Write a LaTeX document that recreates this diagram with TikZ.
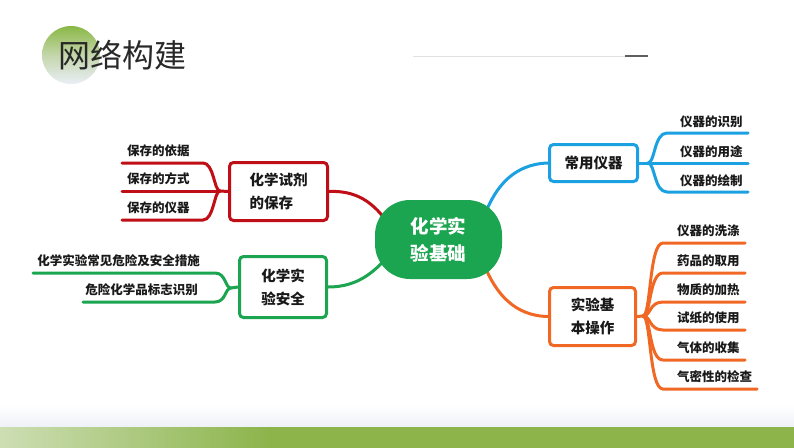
\documentclass[tikz,border=0pt]{standalone}
\usepackage{fontspec}
\setmainfont{Noto Sans CJK SC}
\usetikzlibrary{backgrounds,calc}
\definecolor{cred}{RGB}{192,14,22}
\definecolor{cgreen}{RGB}{27,165,80}
\definecolor{cblue}{RGB}{27,161,226}
\definecolor{corange}{RGB}{240,104,36}
\definecolor{bandgreen}{RGB}{140,180,75}
\definecolor{bandlight}{RGB}{205,222,180}
\definecolor{titlegray}{RGB}{40,40,40}
\definecolor{labgray}{RGB}{25,25,25}
\definecolor{circtop}{RGB}{138,184,70}
\definecolor{circmid}{RGB}{196,214,170}
\definecolor{circbot}{RGB}{234,238,247}
\definecolor{linegray}{RGB}{225,225,225}
\definecolor{bargray}{RGB}{95,95,95}
\definecolor{fadebot}{RGB}{238,241,247}
\pgfdeclarehorizontalshading{bandshade}{100bp}{color(0bp)=(bandlight); color(25bp)=(bandlight); color(42bp)=(bandgreen); color(100bp)=(bandgreen)}
\begin{document}
\begin{tikzpicture}[x=1pt,y=-1pt,
  lab/.style={inner sep=0pt,text=labgray,font=\fontsize{12.5}{14}\selectfont\bfseries},
  boxtext/.style={font=\fontsize{14.5}{23}\selectfont\bfseries,text=labgray,align=left},
  topicbox/.style={draw,line width=3pt,rounded corners=4pt,fill=white,inner sep=0pt,boxtext},
  branch/.style={line width=3pt,line cap=round}]
\useasboundingbox (0,0) rectangle (794,447);
\begin{scope}[on background layer]
\fill[white] (0,0) rectangle (794,447);
\end{scope}
% title decoration
\shade[top color=circtop,bottom color=circbot,middle color=circmid] (71,55) circle (29);
\node[inner sep=0pt,text=titlegray,font=\fontsize{32}{34}\selectfont] (title) at (122,55) {网络构建};
\draw[line width=1pt,linegray] (413,56) -- (625,56);
\draw[line width=2.5pt,bargray] (625,56) -- (648,56);
% bottom band
\shade[top color=white,bottom color=fadebot] (0,405) rectangle (794,427);
\shade[shading=bandshade] (0,427) rectangle (794,447);

% nodes
\node[fill=cgreen,rounded corners=35pt,minimum width=127pt,minimum height=79pt,inner sep=0pt,
      text=white,align=center,font=\fontsize{18.5}{27}\selectfont\bfseries] (cn) at (438.5,239.5) {化学实\\验基础};
\node[topicbox,draw=cred,minimum width=98pt,minimum height=58pt] (rb) at (278.5,191.5) {化学试剂\\的保存};
\node[topicbox,draw=cgreen,minimum width=87pt,minimum height=61pt] (gb) at (283,287) {化学实\\验安全};
\node[topicbox,draw=cblue,minimum width=88pt,minimum height=37pt] (bb) at (593.5,163) {常用仪器};
\node[topicbox,draw=corange,minimum width=86pt,minimum height=58pt] (ob) at (592.5,316.5) {实验基\\本操作};

% connectors to centre (behind centre node)
\begin{scope}[on background layer]
\draw[branch,cred] (rb.east) .. controls (362,190) and (378,208) .. ($(cn.center)+(-46,-10)$);
\draw[branch,cgreen] (gb.east) .. controls (360,287) and (376,270) .. ($(cn.center)+(-46,12)$);
\draw[branch,cblue] (bb.west) .. controls (515,164) and (496,185) .. ($(cn.center)+(46,-24)$);
\draw[branch,corange] (ob.west) .. controls (515,316) and (496,294) .. ($(cn.center)+(46,26)$);
\end{scope}

% red forks
\coordinate (rf) at (220,191);
\coordinate (r1) at (122,163);
\coordinate (r2) at (122,191);
\coordinate (r3) at (122,220);
\draw[branch,cred,line cap=butt] (rb.west) -- (rf);
\draw[branch,cred] (rf) .. controls (214,191) and (214,163) .. (203,163) -- (r1);
\draw[branch,cred] (rf) -- (r2);
\draw[branch,cred] (rf) .. controls (214,191) and (214,220) .. (203,220) -- (r3);
\node[lab,anchor=south west] (rl1) at (127,157) {保存的依据};
\node[lab,anchor=south west] (rl2) at (127,185) {保存的方式};
\node[lab,anchor=south west] (rl3) at (127,214) {保存的仪器};

% green forks
\coordinate (gf) at (231,288);
\coordinate (g1) at (33,273);
\coordinate (g2) at (83,302);
\draw[branch,cgreen,line cap=butt] (gb.west) -- (gf);
\draw[branch,cgreen] (gf) .. controls (225,288) and (226,273) .. (215,273) -- (g1);
\draw[branch,cgreen] (gf) .. controls (225,288) and (226,302) .. (215,302) -- (g2);
\node[lab,anchor=south east] (gl1) at (200,267) {化学实验常见危险及安全措施};
\node[lab,anchor=south east] (gl2) at (198,296) {危险化学品标志识别};

% blue forks
\coordinate (bf) at (648,163);
\coordinate (b1) at (748,133);
\coordinate (b2) at (748,163);
\coordinate (b3) at (748,192);
\draw[branch,cblue,line cap=butt] (bb.east) -- (bf);
\draw[branch,cblue] (bf) .. controls (655,163) and (654,133) .. (667,133) -- (b1);
\draw[branch,cblue] (bf) -- (b2);
\draw[branch,cblue] (bf) .. controls (655,163) and (654,192) .. (667,192) -- (b3);
\node[lab,anchor=south west] (bl1) at (680,128) {仪器的识别};
\node[lab,anchor=south west] (bl2) at (680,158) {仪器的用途};
\node[lab,anchor=south west] (bl3) at (680,187) {仪器的绘制};

% orange forks
\coordinate (of) at (643,316);
\draw[branch,corange,line cap=butt] (ob.east) -- (of);
\foreach \y/\xe/\n in {243/745/1,273/745/2,302/745/3,330/745/4,360/745/5,389/757/6}{
  \coordinate (o\n) at (\xe,\y);
  \draw[branch,corange] (of) .. controls (651,316) and (649,\y) .. (663,\y) -- (o\n);
}
\node[lab,anchor=south west] (ol1) at (677,237) {仪器的洗涤};
\node[lab,anchor=south west] (ol2) at (677,267) {药品的取用};
\node[lab,anchor=south west] (ol3) at (677,296) {物质的加热};
\node[lab,anchor=south west] (ol4) at (677,324) {试纸的使用};
\node[lab,anchor=south west] (ol5) at (677,354) {气体的收集};
\node[lab,anchor=south west] (ol6) at (677,383) {气密性的检查};
\end{tikzpicture}
\end{document}
